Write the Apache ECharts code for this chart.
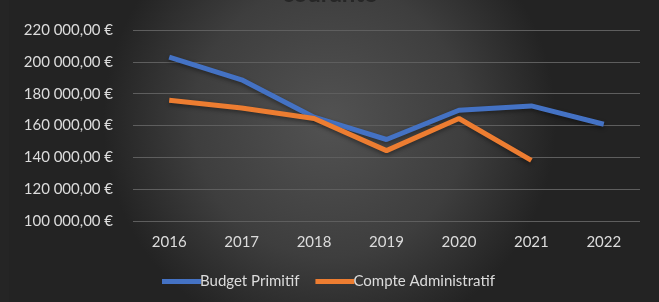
<!DOCTYPE html>
<html><head><meta charset="utf-8">
<script src="https://cdn.jsdelivr.net/npm/echarts@6/dist/echarts.min.js"></script>
<style>html,body{margin:0;padding:0;background:#1e1e1e}#c{width:659px;height:302px}</style>
</head><body><div id="c"></div>
<script>
const years = ['2016','2017','2018','2019','2020','2021','2022'];
const budgetPrimitif = [202900, 188700, 165200, 151200, 169600, 172300, 160800];
const compteAdministratif = [175800, 171000, 164400, 144200, 164400, 138100, null];
const seriesNames = ['Budget Primitif', 'Compte Administratif'];
const titleText = 'courante';

function fmt(v){
  const s = Math.round(v).toString().replace(/\B(?=(\d{3})+(?!\d))/g, '\u202F');
  return s + ',00\u202F€';
}
const chart = echarts.init(document.getElementById('c'));
const font = 'Lato, "Open Sans", sans-serif';
chart.setOption({
  backgroundColor: {type:'radial', x:0.5, y:0.4, r:0.75,
    colorStops:[{offset:0,color:'#525252'},{offset:0.6,color:'#3e3e3e'},{offset:1,color:'#232323'}]},
  graphic:[{type:'rect', left:0, top:0, shape:{width:9, height:302}, style:{fill:'#252525'}}],
  title:{text:titleText, left:'center', top:-23, textStyle:{color:'#262626', fontSize:24, fontWeight:'bold', fontFamily:font}},
  legend:{bottom:8, left:157, itemWidth:39, itemHeight:5, itemGap:16,
    icon:'rect', textStyle:{color:'#dcdcdc', fontSize:15, fontFamily:font, padding:[0,0,0,-6]},
    data:seriesNames},
  grid:{left:133, right:19, top:30, bottom:81},
  xAxis:{type:'category', data:years, boundaryGap:true,
    axisLine:{show:false}, axisTick:{show:false},
    axisLabel:{color:'#dcdcdc', fontSize:15, fontFamily:font, margin:14}},
  yAxis:{type:'value', min:100000, max:220000, interval:20000,
    axisLine:{show:false}, axisTick:{show:false},
    splitLine:{lineStyle:{color:'#5e5e5e', width:1}},
    axisLabel:{color:'#dcdcdc', fontSize:15, fontFamily:font, margin:20, formatter:fmt}},
  series:[
    {name:seriesNames[0], type:'line', data:budgetPrimitif, symbol:'none',
      lineStyle:{color:'#4472C4', width:5, shadowColor:'rgba(0,0,0,0.4)', shadowBlur:4, shadowOffsetY:2}, itemStyle:{color:'#4472C4'}},
    {name:seriesNames[1], type:'line', data:compteAdministratif, symbol:'none',
      lineStyle:{color:'#ED7D31', width:5, shadowColor:'rgba(0,0,0,0.4)', shadowBlur:4, shadowOffsetY:2}, itemStyle:{color:'#ED7D31'}}
  ]
});
</script></body></html>
